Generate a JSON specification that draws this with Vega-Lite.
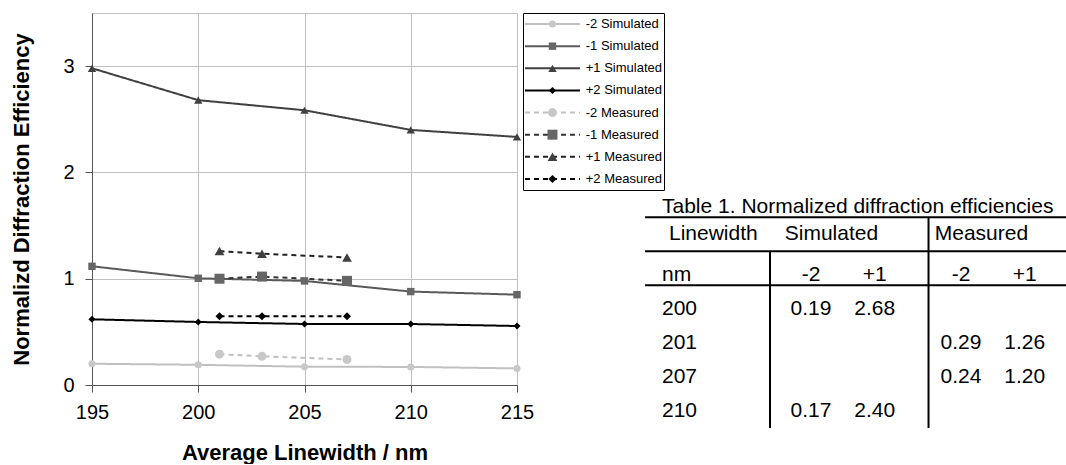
{
  "$schema": "https://vega.github.io/schema/vega-lite/v6.json",
  "padding": {"left": 10, "top": 12, "right": 0, "bottom": 0},
  "config": {"font": "Liberation Sans", "view": {"stroke": null}},
  "spacing": 6,
  "bounds": "flush",
  "datasets": {
    "chart": [
      {"series": "-2 Simulated", "nm": 195, "value": 0.2},
      {"series": "-2 Simulated", "nm": 200, "value": 0.19},
      {"series": "-2 Simulated", "nm": 205, "value": 0.172},
      {"series": "-2 Simulated", "nm": 210, "value": 0.17},
      {"series": "-2 Simulated", "nm": 215, "value": 0.156},
      {"series": "-1 Simulated", "nm": 195, "value": 1.117},
      {"series": "-1 Simulated", "nm": 200, "value": 1.004},
      {"series": "-1 Simulated", "nm": 205, "value": 0.979},
      {"series": "-1 Simulated", "nm": 210, "value": 0.879},
      {"series": "-1 Simulated", "nm": 215, "value": 0.85},
      {"series": "+1 Simulated", "nm": 195, "value": 2.98},
      {"series": "+1 Simulated", "nm": 200, "value": 2.68},
      {"series": "+1 Simulated", "nm": 205, "value": 2.585},
      {"series": "+1 Simulated", "nm": 210, "value": 2.4},
      {"series": "+1 Simulated", "nm": 215, "value": 2.334},
      {"series": "+2 Simulated", "nm": 195, "value": 0.618},
      {"series": "+2 Simulated", "nm": 200, "value": 0.593},
      {"series": "+2 Simulated", "nm": 205, "value": 0.574},
      {"series": "+2 Simulated", "nm": 210, "value": 0.574},
      {"series": "+2 Simulated", "nm": 215, "value": 0.555},
      {"series": "-2 Measured", "nm": 201, "value": 0.29},
      {"series": "-2 Measured", "nm": 203, "value": 0.27},
      {"series": "-2 Measured", "nm": 207, "value": 0.24},
      {"series": "-1 Measured", "nm": 201, "value": 1.0},
      {"series": "-1 Measured", "nm": 203, "value": 1.02},
      {"series": "-1 Measured", "nm": 207, "value": 0.98},
      {"series": "+1 Measured", "nm": 201, "value": 1.26},
      {"series": "+1 Measured", "nm": 203, "value": 1.235},
      {"series": "+1 Measured", "nm": 207, "value": 1.2},
      {"series": "+2 Measured", "nm": 201, "value": 0.646},
      {"series": "+2 Measured", "nm": 203, "value": 0.646},
      {"series": "+2 Measured", "nm": 207, "value": 0.646}
    ],
    "legend": [
      {"series": "-2 Simulated"},
      {"series": "-1 Simulated"},
      {"series": "+1 Simulated"},
      {"series": "+2 Simulated"},
      {"series": "-2 Measured"},
      {"series": "-1 Measured"},
      {"series": "+1 Measured"},
      {"series": "+2 Measured"}
    ],
    "table": [
      {"row": "title", "col": "lw", "text": "Table 1. Normalized diffraction efficiencies"},
      {"row": "header", "col": "lw", "text": "Linewidth"},
      {"row": "header", "col": "s2", "text": "Simulated"},
      {"row": "header", "col": "m2", "text": "Measured"},
      {"row": "nm", "col": "lw", "text": "nm"},
      {"row": "nm", "col": "s2", "text": "-2"},
      {"row": "nm", "col": "s1", "text": "+1"},
      {"row": "nm", "col": "m2", "text": "-2"},
      {"row": "nm", "col": "m1", "text": "+1"},
      {"row": "200", "col": "lw", "text": "200"},
      {"row": "200", "col": "s2", "text": "0.19"},
      {"row": "200", "col": "s1", "text": "2.68"},
      {"row": "201", "col": "lw", "text": "201"},
      {"row": "201", "col": "m2", "text": "0.29"},
      {"row": "201", "col": "m1", "text": "1.26"},
      {"row": "207", "col": "lw", "text": "207"},
      {"row": "207", "col": "m2", "text": "0.24"},
      {"row": "207", "col": "m1", "text": "1.20"},
      {"row": "210", "col": "lw", "text": "210"},
      {"row": "210", "col": "s2", "text": "0.17"},
      {"row": "210", "col": "s1", "text": "2.40"}
    ]
  },
  "hconcat": [
    {
      "width": 425,
      "height": 372,
      "data": {"name": "chart"},
      "view": {"stroke": "#c0c0c0"},
      "encoding": {
        "x": {
          "field": "nm", "type": "quantitative",
          "scale": {"domain": [195, 215], "nice": false, "zero": false},
          "axis": {
            "title": "Average Linewidth / nm", "values": [195, 200, 205, 210, 215], "format": "d",
            "grid": true, "gridColor": "#c0c0c0", "gridWidth": 1,
            "domainColor": "#555555", "tickColor": "#555555", "tickSize": 7,
            "labelFontSize": 20, "labelColor": "#000000", "labelPadding": 10, "labelFlush": false,
            "titleFontSize": 22, "titleFontWeight": "bold", "titleColor": "#000000", "titlePadding": 20
          }
        },
        "y": {
          "field": "value", "type": "quantitative",
          "scale": {"domain": [0, 3.5], "nice": false, "zero": true},
          "axis": {
            "title": "Normalizd Diffraction Efficiency", "values": [0, 1, 2, 3], "format": "d",
            "grid": true, "gridColor": "#c0c0c0", "gridWidth": 1,
            "domainColor": "#555555", "tickColor": "#555555", "tickSize": 7,
            "labelFontSize": 20, "labelColor": "#000000", "labelPadding": 11,
            "titleFontSize": 22, "titleFontWeight": "bold", "titleColor": "#000000", "titlePadding": 29
          }
        }
      },
      "layer": [
        {
          "mark": {"type": "line", "strokeWidth": 2},
          "encoding": {
            "stroke": {
              "field": "series", "type": "nominal", "legend": null,
              "scale": {
                "domain": ["-2 Simulated", "-1 Simulated", "+1 Simulated", "+2 Simulated", "-2 Measured", "-1 Measured", "+1 Measured", "+2 Measured"],
                "range": ["#c0c0c0", "#5a5a5a", "#404040", "#000000", "#c0c0c0", "#333333", "#222222", "#000000"]
              }
            },
            "strokeDash": {
              "field": "series", "type": "nominal", "legend": null,
              "scale": {
                "domain": ["-2 Simulated", "-1 Simulated", "+1 Simulated", "+2 Simulated", "-2 Measured", "-1 Measured", "+1 Measured", "+2 Measured"],
                "range": [[1, 0], [1, 0], [1, 0], [1, 0], [5, 4], [5, 4], [5, 4], [5, 4]]
              }
            }
          }
        },
        {
          "mark": {"type": "point", "filled": true, "opacity": 1, "strokeWidth": 0},
          "encoding": {
            "fill": {
              "field": "series", "type": "nominal", "legend": null,
              "scale": {
                "domain": ["-2 Simulated", "-1 Simulated", "+1 Simulated", "+2 Simulated", "-2 Measured", "-1 Measured", "+1 Measured", "+2 Measured"],
                "range": ["#c8c8c8", "#666666", "#404040", "#000000", "#c8c8c8", "#666666", "#404040", "#000000"]
              }
            },
            "size": {
              "field": "series", "type": "nominal", "legend": null,
              "scale": {
                "type": "ordinal",
                "domain": ["-2 Simulated", "-1 Simulated", "+1 Simulated", "+2 Simulated", "-2 Measured", "-1 Measured", "+1 Measured", "+2 Measured"],
                "range": [50, 55, 70, 50, 80, 100, 95, 65]
              }
            },
            "shape": {
              "field": "series", "type": "nominal", "legend": null,
              "scale": {
                "domain": ["-2 Simulated", "-1 Simulated", "+1 Simulated", "+2 Simulated", "-2 Measured", "-1 Measured", "+1 Measured", "+2 Measured"],
                "range": ["circle", "square", "triangle-up", "diamond", "circle", "square", "triangle-up", "diamond"]
              }
            }
          }
        }
      ]
    },
    {
      "spacing": 0,
      "bounds": "flush",
      "hconcat": [
        {
          "width": 141,
          "height": 177,
          "data": {"name": "legend"},
          "view": {"stroke": "#000000", "strokeWidth": 1},
          "encoding": {
            "y": {
              "field": "series", "type": "nominal", "axis": null,
              "scale": {"type": "band", "domain": ["-2 Simulated", "-1 Simulated", "+1 Simulated", "+2 Simulated", "-2 Measured", "-1 Measured", "+1 Measured", "+2 Measured"], "paddingInner": 0, "paddingOuter": 0}
            }
          },
          "layer": [
            {
              "mark": {"type": "rule", "strokeWidth": 2},
              "encoding": {
                "x": {"datum": 0.014, "type": "quantitative", "scale": {"domain": [0, 1], "nice": false, "zero": false}, "axis": null},
                "x2": {"datum": 0.404},
                "stroke": {
                  "field": "series", "type": "nominal", "legend": null,
                  "scale": {
                    "domain": ["-2 Simulated", "-1 Simulated", "+1 Simulated", "+2 Simulated", "-2 Measured", "-1 Measured", "+1 Measured", "+2 Measured"],
                    "range": ["#c0c0c0", "#5a5a5a", "#404040", "#000000", "#c0c0c0", "#333333", "#222222", "#000000"]
                  }
                },
                "strokeDash": {
                  "field": "series", "type": "nominal", "legend": null,
                  "scale": {
                    "domain": ["-2 Simulated", "-1 Simulated", "+1 Simulated", "+2 Simulated", "-2 Measured", "-1 Measured", "+1 Measured", "+2 Measured"],
                    "range": [[1, 0], [1, 0], [1, 0], [1, 0], [4, 4], [4, 4], [4, 4], [4, 4]]
                  }
                }
              }
            },
            {
              "mark": {"type": "point", "filled": true, "opacity": 1, "strokeWidth": 0},
              "encoding": {
                "x": {"datum": 0.209, "type": "quantitative"},
                "fill": {
                  "field": "series", "type": "nominal", "legend": null,
                  "scale": {
                    "domain": ["-2 Simulated", "-1 Simulated", "+1 Simulated", "+2 Simulated", "-2 Measured", "-1 Measured", "+1 Measured", "+2 Measured"],
                    "range": ["#c8c8c8", "#666666", "#404040", "#000000", "#c8c8c8", "#666666", "#404040", "#000000"]
                  }
                },
                "size": {
                  "field": "series", "type": "nominal", "legend": null,
                  "scale": {
                    "type": "ordinal",
                    "domain": ["-2 Simulated", "-1 Simulated", "+1 Simulated", "+2 Simulated", "-2 Measured", "-1 Measured", "+1 Measured", "+2 Measured"],
                    "range": [64, 64, 80, 70, 100, 121, 100, 80]
                  }
                },
                "shape": {
                  "field": "series", "type": "nominal", "legend": null,
                  "scale": {
                    "domain": ["-2 Simulated", "-1 Simulated", "+1 Simulated", "+2 Simulated", "-2 Measured", "-1 Measured", "+1 Measured", "+2 Measured"],
                    "range": ["circle", "square", "triangle-up", "diamond", "circle", "square", "triangle-up", "diamond"]
                  }
                }
              }
            },
            {
              "mark": {"type": "text", "align": "left", "baseline": "middle", "fontSize": 13, "color": "#000000"},
              "encoding": {
                "x": {"datum": 0.445, "type": "quantitative"},
                "text": {"field": "series"}
              }
            }
          ]
        },
        {
          "width": 402,
          "height": 415,
          "data": {"name": "table"},
          "view": {"stroke": null},
          "encoding": {
            "y": {
              "field": "row", "type": "nominal", "axis": null,
              "scale": {"type": "band", "domain": ["title", "header", "nm", "200", "201", "207", "210"], "paddingInner": 0, "paddingOuter": 0, "range": [177, 415]}
            }
          },
          "layer": [
            {
              "transform": [{"filter": "datum.col == 'lw' && datum.row != 'header'"}],
              "mark": {"type": "text", "align": "left", "baseline": "middle", "fontSize": 21, "color": "#000000", "dx": -29},
              "encoding": {
                "x": {"field": "col", "type": "nominal", "bandPosition": 0, "axis": null, "scale": {"domain": ["lw", "s2", "s1", "m2", "m1"], "paddingInner": 0, "paddingOuter": 0.18, "align": 1}},
                "text": {"field": "text"}
              }
            },
            {
              "transform": [{"filter": "datum.col == 'lw' && datum.row == 'header'"}],
              "mark": {"type": "text", "align": "left", "baseline": "middle", "fontSize": 21, "color": "#000000", "dx": -22},
              "encoding": {
                "x": {"field": "col", "type": "nominal", "bandPosition": 0, "axis": null},
                "y": {"field": "row", "type": "nominal", "bandPosition": 0.3},
                "text": {"field": "text"}
              }
            },
            {
              "transform": [{"filter": "datum.col != 'lw' && datum.row == 'header'"}],
              "mark": {"type": "text", "align": "left", "baseline": "middle", "fontSize": 21, "color": "#000000"},
              "encoding": {
                "x": {"field": "col", "type": "nominal", "bandPosition": 0.25, "axis": null},
                "y": {"field": "row", "type": "nominal", "bandPosition": 0.3},
                "text": {"field": "text"}
              }
            },
            {
              "transform": [{"filter": "(datum.col == 's2' || datum.col == 'm2') && datum.row != 'header'"}],
              "mark": {"type": "text", "align": "center", "baseline": "middle", "fontSize": 21, "color": "#000000"},
              "encoding": {
                "x": {"field": "col", "type": "nominal", "bandPosition": 0.6, "axis": null},
                "text": {"field": "text"}
              }
            },
            {
              "transform": [{"filter": "datum.col == 's1' || datum.col == 'm1'"}],
              "mark": {"type": "text", "align": "center", "baseline": "middle", "fontSize": 21, "color": "#000000"},
              "encoding": {
                "x": {"field": "col", "type": "nominal", "bandPosition": 0.45, "axis": null},
                "text": {"field": "text"}
              }
            },
            {
              "transform": [{"filter": "datum.col == 'lw' && (datum.row == 'title' || datum.row == 'header' || datum.row == 'nm')"}],
              "mark": {"type": "rule", "color": "#000000", "strokeWidth": 2},
              "encoding": {
                "x": {"datum": "lw", "type": "nominal", "bandPosition": -0.613},
                "x2": {"datum": "m1", "bandPosition": 1},
                "y": {"field": "row", "type": "nominal", "bandPosition": 0.8}
              }
            },
            {
              "transform": [{"filter": "datum.col == 'lw' && datum.row == 'header'"}],
              "mark": {"type": "rule", "color": "#000000", "strokeWidth": 2},
              "encoding": {
                "x": {"datum": "s2", "type": "nominal", "bandPosition": 0.053},
                "y": {"datum": "header", "type": "nominal", "bandPosition": 0.8},
                "y2": {"datum": "210", "bandPosition": 1}
              }
            },
            {
              "transform": [{"filter": "datum.col == 'lw' && datum.row == 'title'"}],
              "mark": {"type": "rule", "color": "#000000", "strokeWidth": 2},
              "encoding": {
                "x": {"datum": "m2", "type": "nominal", "bandPosition": 0.167},
                "y": {"datum": "title", "type": "nominal", "bandPosition": 0.8},
                "y2": {"datum": "210", "bandPosition": 1}
              }
            }
          ]
        }
      ]
    }
  ]
}
